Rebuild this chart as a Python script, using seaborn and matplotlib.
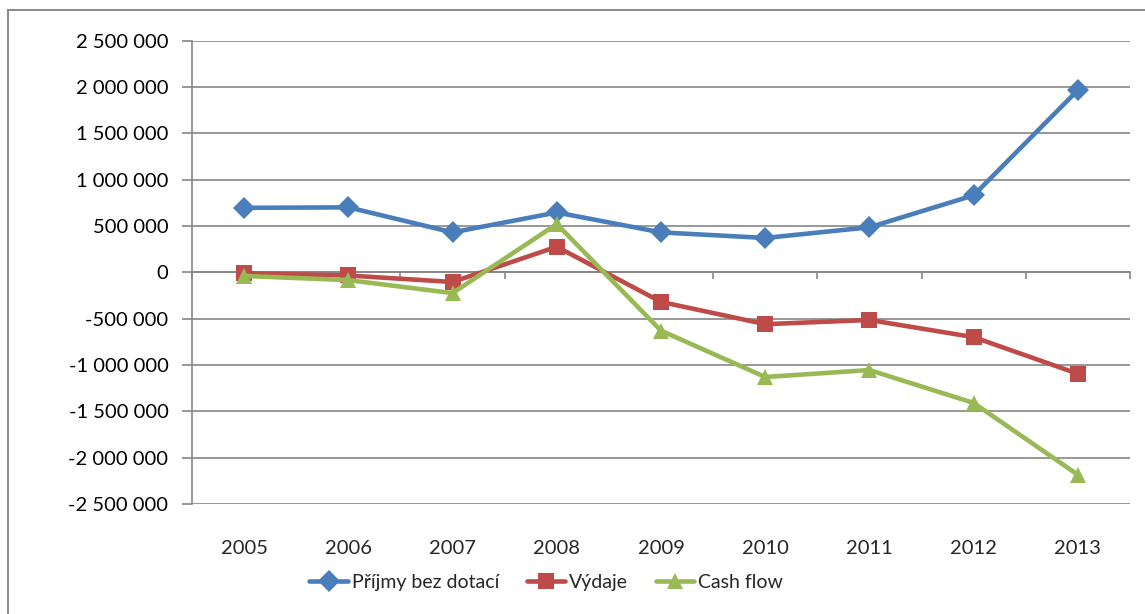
import numpy as np
import pandas as pd
import matplotlib
matplotlib.use('Agg')
import matplotlib.pyplot as plt
import matplotlib.ticker as mticker
from matplotlib.patches import Rectangle
import seaborn as sns

# --- data ---
years = ['2005', '2006', '2007', '2008', '2009', '2010', '2011', '2012', '2013']
prijmy = [695000, 700000, 430000, 645000, 430000, 370000, 485000, 830000, 1965000]
vydaje = [-10000, -35000, -105000, 275000, -320000, -560000, -515000, -700000, -1095000]
cash_flow = [-40000, -85000, -225000, 520000, -630000, -1130000, -1055000, -1410000, -2185000]
series_names = ['Příjmy bez dotací', 'Výdaje', 'Cash flow']
y_ticks = list(range(-2500000, 2500001, 500000))

df = pd.DataFrame({
    'rok': years * 3,
    'hodnota': prijmy + vydaje + cash_flow,
    'serie': np.repeat(series_names, len(years)),
})

sns.set_theme(style='white')
plt.rcParams['font.family'] = ['Lato', 'DejaVu Sans']

GRID = '#868686'
FS = 14.5
palette = {'Příjmy bez dotací': '#4A7EBB', 'Výdaje': '#BE4B48', 'Cash flow': '#98B954'}
markers = {'Příjmy bez dotací': 'D', 'Výdaje': 's', 'Cash flow': '^'}

fig = plt.figure(figsize=(11.45, 6.14), dpi=100)
ax = fig.add_axes([192 / 1145, 1 - 504 / 614, (1130 - 192) / 1145, (504 - 40.5) / 614])

sns.lineplot(data=df, x='rok', y='hodnota', hue='serie', style='serie',
             palette=palette, markers=markers, dashes=False, linewidth=3.3,
             markersize=11.5, markeredgewidth=0, ax=ax, legend=True, zorder=3)

ax.set_xlim(-0.5, len(years) - 0.5)
ax.set_ylim(-2500000, 2500000)
ax.set_xlabel('')
ax.set_ylabel('')

# y axis: Excel-ish formatting with space separators
ax.set_yticks(y_ticks)
ax.yaxis.set_major_formatter(mticker.FuncFormatter(
    lambda v, p: f'{int(v):,}'.replace(',', ' ')))
ax.tick_params(axis='y', length=7, width=1.2, color=GRID, labelsize=FS,
               labelcolor='black', pad=10, left=True)
ax.grid(axis='y', color=GRID, linewidth=1.2, zorder=0)
ax.grid(axis='x', visible=False)

for s in ['top', 'right']:
    ax.spines[s].set_visible(False)
ax.spines['left'].set_color(GRID)
ax.spines['left'].set_linewidth(1.2)
# category axis crosses at zero, with tick marks between categories
ax.spines['bottom'].set_position(('data', 0))
ax.spines['bottom'].set_color(GRID)
ax.spines['bottom'].set_linewidth(1.2)
ax.set_xticks(np.arange(len(years)))
ax.set_xticklabels([])
ax.set_xticks(np.arange(-0.5, len(years)), minor=True)
ax.tick_params(axis='x', which='major', length=0)
ax.tick_params(axis='x', which='minor', length=5, width=1.2, color=GRID,
               direction='out', bottom=True)

# year labels sit below the plot area
sec = ax.secondary_xaxis(0)
sec.set_xticks(np.arange(len(years)), labels=years)
sec.tick_params(length=0, pad=26, labelsize=FS)
sec.spines['bottom'].set_visible(False)

# legend under the chart
handles, labels = ax.get_legend_handles_labels()
ax.get_legend().remove()
fig.legend(handles, labels, loc='center', bbox_to_anchor=(0.477, 0.052),
           ncol=3, frameon=False, fontsize=14, handlelength=2.0,
           handletextpad=0.2, columnspacing=1.4)

# chart border
fig.patches.append(Rectangle((8 / 1145, -0.1), 1.2, 1.083, transform=fig.transFigure,
                             fill=False, edgecolor='#8C8C8C', linewidth=1.5))

fig.savefig('out.png', dpi=100)
